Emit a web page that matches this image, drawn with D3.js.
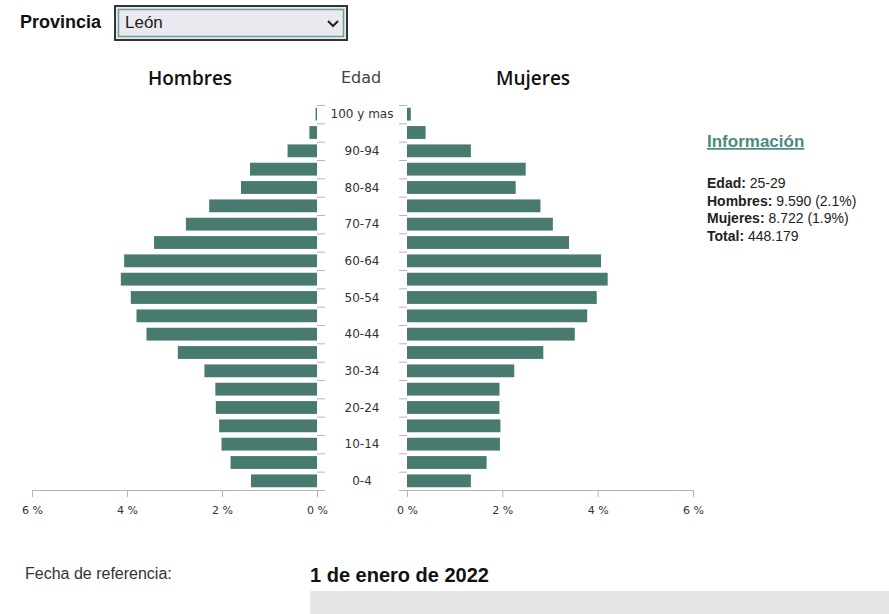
<!DOCTYPE html>
<html>
<head>
<meta charset="utf-8">
<script src="https://cdn.jsdelivr.net/npm/d3@7"></script>
<style>
  body { margin: 0; background: #fff; }
  svg { display: block; }
</style>
</head>
<body>
<div id="piramide"></div>
<script>
// grupos de edad, de arriba abajo
var edades = ["100 y mas","95-99","90-94","85-89","80-84","75-79","70-74","65-69","60-64","55-59",
  "50-54","45-49","40-44","35-39","30-34","25-29","20-24","15-19","10-14","5-9","0-4"];
// porcentaje sobre el total
var hombres = [0.03,0.16,0.62,1.41,1.60,2.27,2.76,3.43,4.06,4.13,
  3.92,3.80,3.59,2.93,2.37,2.14,2.13,2.06,2.01,1.82,1.39];
var mujeres = [0.08,0.39,1.34,2.49,2.28,2.80,3.06,3.40,4.07,4.21,
  3.98,3.78,3.52,2.86,2.25,1.94,1.94,1.96,1.95,1.67,1.34];
var ticksX = [0, 2, 4, 6];
var provincia = "León";
var infoLineas = [["Edad:", "25-29"], ["Hombres:", "9.590 (2.1%)"], ["Mujeres:", "8.722 (1.9%)"], ["Total:", "448.179"]];
var fecha = "1 de enero de 2022";

var W = 889, H = 614;
var yTop = 105, yBottom = 490;
var color = "#487a70";

var svg = d3.select("#piramide").append("svg")
    .attr("width", W).attr("height", H);

// selector de provincia
svg.append("text").attr("x", 20).attr("y", 28)
    .style("font", "bold 18px 'Liberation Sans', Arial, sans-serif").style("fill", "#111")
    .text("Provincia");
svg.append("rect").attr("x", 115).attr("y", 6).attr("width", 232).attr("height", 34)
    .attr("fill", "#e9e9ef").attr("stroke", "#333").attr("stroke-width", 2);
svg.append("rect").attr("x", 118.5).attr("y", 9.5).attr("width", 225).attr("height", 27)
    .attr("fill", "none").attr("stroke", "#6aa295").attr("stroke-width", 1.5);
svg.append("text").attr("x", 125).attr("y", 28)
    .style("font", "17px 'Liberation Sans', Arial, sans-serif").style("fill", "#222")
    .text(provincia);
svg.append("path").attr("d", "M328,21 L333,26 L338,21")
    .attr("fill", "none").attr("stroke", "#222").attr("stroke-width", 2);

// escalas
var y = d3.scaleBand().domain(edades).range([yTop, yBottom]).paddingInner(0.3).paddingOuter(0.15);
var yb = d3.scaleLinear().domain([0, edades.length]).range([yTop, yBottom]);
var xL = d3.scaleLinear().domain([0, 6]).range([317, 32]);
var xR = d3.scaleLinear().domain([0, 6]).range([407, 693]);

// barras
svg.append("g").selectAll("rect").data(edades).enter().append("rect")
    .attr("x", function(d, i) { return xL(hombres[i]); })
    .attr("y", function(d) { return y(d); })
    .attr("width", function(d, i) { return xL(0) - xL(hombres[i]); })
    .attr("height", y.bandwidth())
    .attr("fill", color);
svg.append("g").selectAll("rect").data(edades).enter().append("rect")
    .attr("x", xR(0))
    .attr("y", function(d) { return y(d); })
    .attr("width", function(d, i) { return xR(mujeres[i]) - xR(0); })
    .attr("height", y.bandwidth())
    .attr("fill", color);

// ticks verticales en los limites de cada grupo
var gyl = svg.append("g").attr("transform", "translate(317,0)").call(d3.axisRight(yb)
    .tickValues(d3.range(edades.length + 1)).tickSize(8).tickFormat(""));
var gyr = svg.append("g").attr("transform", "translate(407,0)").call(d3.axisLeft(yb)
    .tickValues(d3.range(edades.length + 1)).tickSize(8).tickFormat(""));
[gyl, gyr].forEach(function(g) {
  g.select(".domain").remove();
  g.selectAll("line").attr("stroke", "#b5b5b5");
});

// etiquetas de edad (una de cada dos)
svg.append("g").selectAll("text").data(edades.filter(function(d, i) { return i % 2 == 0; }))
  .enter().append("text")
    .attr("x", 362)
    .attr("y", function(d) { return y(d) + y.bandwidth() / 2; })
    .attr("dy", "0.35em")
    .attr("text-anchor", "middle")
    .style("font", "12px 'DejaVu Sans', sans-serif").style("fill", "#333")
    .text(function(d) { return d; });

// ejes x
function ejeX(g, scale) {
  g.attr("transform", "translate(0," + yBottom + ")")
    .call(d3.axisBottom(scale).tickValues(ticksX).tickSize(7).tickSizeOuter(0)
      .tickFormat(function(d) { return d + " %"; }));
  g.select(".domain").attr("stroke", "#b5b5b5");
  g.selectAll("line").attr("stroke", "#b5b5b5");
  g.selectAll("text").attr("dy", "1.25em")
    .style("font", "11px 'DejaVu Sans', sans-serif").style("fill", "#333");
}
ejeX(svg.append("g"), xL);
ejeX(svg.append("g"), xR);

// titulos
svg.append("text").attr("x", 190).attr("y", 85).attr("text-anchor", "middle")
    .style("font", "600 19px 'Open Sans', sans-serif").style("fill", "#111").text("Hombres");
svg.append("text").attr("x", 533).attr("y", 85).attr("text-anchor", "middle")
    .style("font", "600 19px 'Open Sans', sans-serif").style("fill", "#111").text("Mujeres");
svg.append("text").attr("x", 361).attr("y", 83).attr("text-anchor", "middle")
    .style("font", "16px 'DejaVu Sans', sans-serif").style("fill", "#444").text("Edad");

// panel de informacion
svg.append("text").attr("x", 707).attr("y", 147)
    .style("font", "bold 17px 'Liberation Sans', Arial, sans-serif").style("fill", "#4a8a7e")
    .style("text-decoration", "underline")
    .text("Información");
var info = svg.append("g").selectAll("text").data(infoLineas).enter().append("text")
    .attr("x", 707)
    .attr("y", function(d, i) { return 188 + i * 17.5; })
    .style("font", "14px 'Liberation Sans', Arial, sans-serif").style("fill", "#222");
info.append("tspan").style("font-weight", "bold").text(function(d) { return d[0] + " "; });
info.append("tspan").text(function(d) { return d[1]; });

// fecha de referencia
svg.append("text").attr("x", 25).attr("y", 579)
    .style("font", "16px 'Liberation Sans', Arial, sans-serif").style("fill", "#333")
    .text("Fecha de referencia:");
svg.append("text").attr("x", 310).attr("y", 582)
    .style("font", "bold 20px 'Liberation Sans', Arial, sans-serif").style("fill", "#111")
    .text(fecha);
svg.append("rect").attr("x", 310).attr("y", 591).attr("width", W - 310).attr("height", H - 591)
    .attr("fill", "#e6e6e6");
</script>
</body>
</html>
